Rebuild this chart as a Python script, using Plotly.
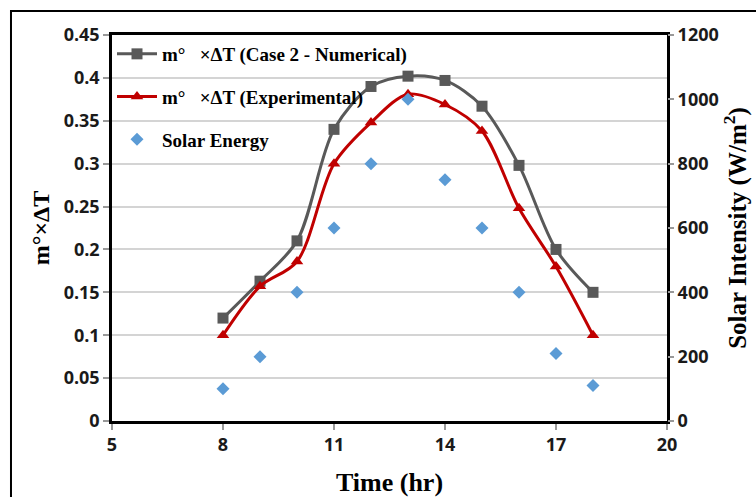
import plotly.graph_objects as go

# Hourly readings
time_hr = [8, 9, 10, 11, 12, 13, 14, 15, 16, 17, 18]
mdt_numerical = [0.12, 0.163, 0.21, 0.34, 0.39, 0.402, 0.397, 0.367, 0.298, 0.2, 0.15]
mdt_experimental = [0.1, 0.157, 0.186, 0.3, 0.348, 0.381, 0.369, 0.338, 0.248, 0.18, 0.1]
solar_energy = [100, 200, 400, 600, 800, 1000, 750, 600, 400, 210, 110]

x_ticks = [5, 8, 11, 14, 17, 20]

NBSP = "\u00a0"
name_num = f"m°{NBSP}{NBSP}{NBSP}×ΔT (Case 2 - Numerical)"
name_exp = f"m°{NBSP}{NBSP}{NBSP}×ΔT (Experimental)"

tick_font = dict(family="Open Sans, Lato, sans-serif", size=18, color="#1a1a1a", weight="bold")
serif = "Liberation Serif, Times New Roman, serif"

fig = go.Figure()

fig.add_trace(go.Scatter(
    x=time_hr, y=mdt_numerical, name=name_num, legendgroup="a",
    mode="lines+markers", line=dict(color="#595959", width=3, shape="spline", smoothing=0.9),
    marker=dict(symbol="square", size=11, color="#595959"),
))
fig.add_trace(go.Scatter(
    x=time_hr, y=mdt_experimental, name=name_exp, legendgroup="b",
    mode="lines+markers", line=dict(color="#C00000", width=3, shape="spline", smoothing=0.9),
    marker=dict(symbol="triangle-up", size=11, color="#C00000"),
))
fig.add_trace(go.Scatter(
    x=time_hr, y=solar_energy, name="Solar Energy", legendgroup="c", yaxis="y2",
    mode="markers", marker=dict(symbol="diamond", size=10, color="#5B9BD5"),
))

fig.update_layout(
    width=756, height=497,
    margin=dict(l=112, r=89, t=35, b=76),
    paper_bgcolor="white", plot_bgcolor="white",
    showlegend=True,
    legend=dict(
        x=0.0, y=1.0, xanchor="left", yanchor="top",
        bgcolor="rgba(0,0,0,0)", traceorder="grouped", tracegroupgap=15,
        font=dict(family=serif, size=19, color="black", weight="bold"),
        itemwidth=40,
    ),
    xaxis=dict(
        range=[5, 20], tickvals=x_ticks, ticktext=[str(v) for v in x_ticks],
        automargin=False,
        showgrid=False, zeroline=False,
        showline=True, linecolor="black", linewidth=2.5, mirror=True,
        ticks="outside", ticklen=6, tickcolor="#999999", tickwidth=1.5,
        tickfont=tick_font,
        title=dict(text="Time (hr)", standoff=20,
                   font=dict(family=serif, size=26, color="black", weight="bold")),
    ),
    yaxis=dict(
        range=[0, 0.45], dtick=0.05, tickformat="~g",
        automargin=False,
        showgrid=True, gridcolor="#d4d4d4", gridwidth=1.5, zeroline=False,
        showline=True, linecolor="black", linewidth=2.5, mirror=True,
        ticks="outside", ticklen=6, tickcolor="#999999", tickwidth=1.5,
        tickfont=tick_font,
        title=dict(text="m°×ΔT", standoff=8,
                   font=dict(family=serif, size=24, color="black", weight="bold")),
    ),
    yaxis2=dict(
        range=[0, 1200], dtick=200, overlaying="y", side="right",
        automargin=False,
        showgrid=False, zeroline=False,
        ticks="outside", ticklen=6, tickcolor="#999999", tickwidth=1.5,
        tickfont=tick_font,
        title=dict(text="Solar Intensity (W/m<sup>2</sup>)", standoff=10,
                   font=dict(family=serif, size=25, color="black", weight="bold")),
    ),
    shapes=[dict(
        type="rect", xref="paper", yref="paper",
        x0=-0.182, x1=1.6, y0=-0.6, y1=1.062,
        line=dict(color="black", width=2), fillcolor="rgba(0,0,0,0)", layer="above",
    )],
)

fig.write_html("out.html")
